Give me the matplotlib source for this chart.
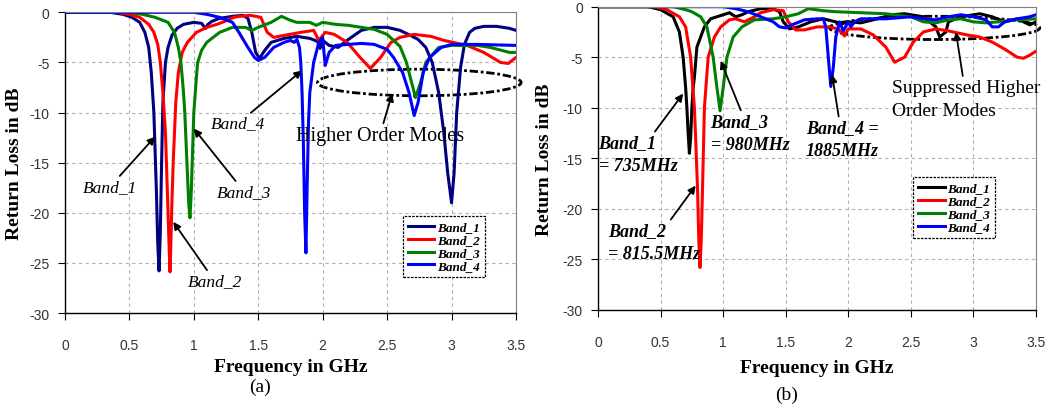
import numpy as np
import matplotlib
matplotlib.use("Agg")
import matplotlib.pyplot as plt
from matplotlib.patches import Ellipse

SERIF = "Liberation Serif"
SANS = "Liberation Sans"

# ---------------- panel (a) data ----------------
A1_F = [0, 0.35, 0.45, 0.52, 0.58, 0.62, 0.65, 0.67, 0.69, 0.70, 0.71, 0.72, 0.73, 0.74, 0.75, 0.76,
        0.78, 0.80, 0.83, 0.87, 0.92, 1.0, 1.06, 1.09, 1.11, 1.14, 1.2, 1.3, 1.38, 1.42, 1.45, 1.48,
        1.51, 1.55, 1.6, 1.7, 1.8, 1.85, 1.9, 1.96, 1.98, 2.0, 2.05, 2.12, 2.2, 2.3, 2.4, 2.5, 2.6,
        2.68, 2.74, 2.8, 2.85, 2.9, 2.94, 2.97, 3.0, 3.02, 3.04, 3.07, 3.1, 3.14, 3.18, 3.25, 3.35,
        3.45, 3.5]
A1_DB = [0, 0, -0.2, -0.5, -1.0, -2.0, -3.5, -6, -10, -14, -18, -23, -25.8, -22, -15, -9,
         -5, -3.5, -2.3, -1.6, -1.2, -1.0, -1.1, -1.6, -1.2, -0.9, -0.6, -0.4, -0.3, -0.6, -2, -4,
         -4.6, -3.8, -3.0, -2.6, -2.4, -2.5, -2.6, -2.9, -3.6, -2.8, -3.3, -3.5, -2.7, -1.8, -1.5, -1.5, -1.8,
         -2.3, -2.7, -3.5, -5, -8, -12, -16, -19, -16, -10, -5.5, -3.2, -2.0, -1.6, -1.4, -1.4,
         -1.6, -1.8]

A2_F = [0, 0.4, 0.5, 0.58, 0.65, 0.69, 0.72, 0.74, 0.76, 0.78, 0.79, 0.80, 0.81, 0.815, 0.82, 0.83,
        0.84, 0.86, 0.88, 0.91, 0.95, 1.02, 1.10, 1.18, 1.26, 1.31, 1.36, 1.44, 1.52, 1.57, 1.62,
        1.70, 1.83, 1.93, 1.97, 2.02, 2.09, 2.19, 2.29, 2.37, 2.45, 2.53, 2.6, 2.71, 2.84, 2.94,
        3.12, 3.25, 3.38, 3.44, 3.5]
A2_DB = [0, 0, -0.2, -0.5, -1.2, -2.0, -3.2, -5, -8, -12, -16, -20, -24, -25.9, -24, -19,
         -15, -9, -6, -4, -3, -2, -1.5, -1.2, -0.8, -0.5, -0.4, -0.3, -0.5, -2.0, -2.5,
         -2.3, -2.0, -1.8, -2.8, -2.0, -2.2, -3.0, -4.5, -5.6, -4.5, -3.0, -2.5, -2.2, -2.4, -2.8,
         -3.3, -4.0, -5.0, -5.1, -4.5]

A3_F = [0, 0.5, 0.6, 0.7, 0.8, 0.85, 0.88, 0.9, 0.92, 0.93, 0.94, 0.95, 0.96, 0.97, 0.98, 0.99,
        1.0, 1.02, 1.03, 1.06, 1.1, 1.2, 1.3, 1.4, 1.45, 1.5, 1.6, 1.68, 1.75, 1.8, 1.9, 1.95, 2.0,
        2.1, 2.2, 2.3, 2.4, 2.5, 2.6, 2.65, 2.69, 2.72, 2.76, 2.8, 2.9, 3.0, 3.2, 3.3, 3.45, 3.5]
A3_DB = [0, 0, -0.2, -0.5, -1.0, -2.0, -3.5, -5, -8, -10, -13, -16, -19, -20.5, -18, -14,
         -10, -6.5, -5, -3.8, -3.0, -2.0, -1.5, -1.5, -1.8, -1.5, -1.0, -0.4, -0.8, -1.0, -1.0, -1.3, -1.0,
         -1.2, -1.3, -1.5, -1.7, -2.2, -3.4, -5, -7, -8.5, -7, -5, -3.5, -3.3, -3.3, -3.5, -4.0, -4.0]

A4_F = [0, 1.0, 1.1, 1.2, 1.3, 1.35, 1.42, 1.47, 1.5, 1.55, 1.62, 1.7, 1.75, 1.78, 1.80, 1.82,
        1.83, 1.84, 1.85, 1.86, 1.87, 1.88, 1.89, 1.9, 1.93, 1.97, 2.0, 2.01, 2.02, 2.05, 2.1, 2.2,
        2.3, 2.4, 2.5, 2.55, 2.62, 2.67, 2.71, 2.74, 2.78, 2.83, 2.92, 3.0, 3.2, 3.5]
A4_DB = [0, 0, -0.2, -0.5, -1.0, -2.0, -3.5, -4.5, -4.8, -4.5, -3.5, -3.0, -2.8, -3.0, -2.7, -3.5,
         -5, -8, -13, -20, -24, -17, -11, -8, -5, -3, -2.5, -4.0, -5.3, -4.0, -3.3, -3.2,
         -3.1, -3.2, -3.7, -4.5, -6.0, -8.0, -10.3, -9.0, -6.0, -4.5, -3.5, -3.2, -3.2, -3.3]

# ---------------- panel (b) data ----------------
B1_F = [0, 0.4, 0.5, 0.6, 0.65, 0.68, 0.70, 0.71, 0.72, 0.73, 0.74, 0.75, 0.76, 0.77, 0.79, 0.82,
        0.85, 0.9, 1.0, 1.05, 1.1, 1.15, 1.2, 1.3, 1.4, 1.45, 1.48, 1.53, 1.6, 1.7, 1.8, 1.9, 1.95,
        2.0, 2.1, 2.2, 2.35, 2.45, 2.6, 2.7, 2.73, 2.78, 2.8, 2.9, 3.0, 3.05, 3.15, 3.25, 3.35,
        3.45, 3.5]
B1_DB = [0, 0, -0.3, -1.0, -2.5, -5, -8, -10, -12.5, -14.5, -13, -10, -8, -7, -4, -3,
         -2, -1.2, -0.8, -0.6, -1.0, -0.8, -0.5, -0.2, -0.2, -0.5, -1.5, -2.2, -2.0, -1.5, -1.2, -1.5, -1.7,
         -1.5, -1.6, -1.3, -0.8, -0.7, -1.0, -2.0, -3.0, -2.5, -1.5, -1.0, -0.8, -0.7, -1.0, -1.5, -1.2,
         -1.8, -1.5]

B2_F = [0, 0.45, 0.55, 0.65, 0.7, 0.74, 0.77, 0.78, 0.795, 0.805, 0.815, 0.825, 0.835, 0.85, 0.88,
        0.93, 0.98, 1.05, 1.1, 1.17, 1.25, 1.3, 1.4, 1.48, 1.52, 1.58, 1.65, 1.75, 1.85, 1.92, 1.97,
        2.0, 2.1, 2.2, 2.3, 2.37, 2.45, 2.52, 2.6, 2.7, 2.8, 2.95, 3.05, 3.15, 3.25, 3.35, 3.4,
        3.45, 3.5]
B2_DB = [0, 0, -0.3, -1.0, -2.0, -5, -10, -13, -18, -23, -25.8, -23, -18, -10, -5,
         -3, -2, -1.3, -1.2, -1.5, -1.0, -0.6, -0.3, -0.4, -1.5, -2.3, -2.3, -2.0, -2.0, -2.2, -2.9,
         -2.2, -2.2, -2.8, -4.0, -5.5, -5.0, -3.5, -2.5, -2.2, -2.4, -2.8, -3.0, -3.5, -4.2, -5.0, -5.1,
         -4.8, -4.4]

B3_F = [0, 0.6, 0.7, 0.75, 0.82, 0.87, 0.92, 0.95, 0.975, 1.0, 1.03, 1.08, 1.15, 1.25, 1.4, 1.5,
        1.6, 1.68, 1.8, 1.9, 2.1, 2.3, 2.5, 2.6, 2.7, 2.8, 2.9, 3.0, 3.1, 3.2, 3.35, 3.5]
B3_DB = [0, 0, -0.3, -0.5, -1.0, -2.0, -5, -8, -10.3, -8, -5, -3, -2, -1.3, -1.2, -1.0,
         -0.7, -0.2, -0.4, -0.5, -0.6, -0.7, -1.0, -1.5, -1.6, -1.3, -1.2, -1.5, -1.6, -1.5, -1.3, -1.2]

B4_F = [0, 1.0, 1.1, 1.2, 1.3, 1.4, 1.45, 1.5, 1.55, 1.65, 1.75, 1.8, 1.82, 1.84, 1.86, 1.88,
        1.9, 1.93, 1.96, 2.0, 2.02, 2.05, 2.1, 2.3, 2.5, 2.6, 2.7, 2.8, 2.9, 3.0, 3.1, 3.15, 3.2,
        3.25, 3.35, 3.45, 3.5]
B4_DB = [0, 0, -0.2, -0.5, -1.0, -1.5, -2.0, -2.1, -1.8, -1.3, -1.2, -1.2, -2.0, -5, -7.9, -6,
         -3, -1.5, -2.4, -1.5, -2.0, -1.5, -1.2, -1.2, -1.0, -1.2, -1.3, -1.0, -0.8, -1.0, -1.3, -2.0, -2.0,
         -1.5, -1.2, -1.0, -0.8]

LABELS = ["Band_1", "Band_2", "Band_3", "Band_4"]
COLORS_A = ["#000080", "#ff0000", "#008000", "#0000ff"]
COLORS_B = ["#000000", "#ff0000", "#008000", "#0000ff"]
XTICKS = [0, 0.5, 1, 1.5, 2, 2.5, 3, 3.5]
YTICKS = [0, -5, -10, -15, -20, -25, -30]


def setup(ax, xlab_y, ylab_x):
    ax.set_xlim(0, 3.5)
    ax.set_ylim(-30, 0)
    ax.set_xticks(XTICKS)
    ax.set_xticklabels([f"{t:g}" for t in XTICKS], fontfamily=SANS, fontsize=10, color="#333333")
    ax.set_yticks(YTICKS)
    ax.set_yticklabels([f"{t:g}" for t in YTICKS], fontfamily=SANS, fontsize=10, color="#333333")
    ax.tick_params(axis="x", direction="out", length=5, pad=13, top=False)
    ax.tick_params(axis="y", direction="out", length=5, pad=6, right=False)
    ax.grid(True, color="#b0b0b0", linestyle=(0, (3, 3)), linewidth=0.8)
    for s in ["top", "right"]:
        ax.spines[s].set_color("#808080")
    for s in ["left", "bottom"]:
        ax.spines[s].set_color("#000000")
        ax.spines[s].set_linewidth(1.0)
    ax.set_xlabel("Frequency in GHz", fontfamily=SERIF, fontweight="bold", fontsize=14)
    ax.set_ylabel("Return Loss in dB", fontfamily=SERIF, fontweight="bold", fontsize=14)
    ax.xaxis.set_label_coords(0.5, xlab_y)
    ax.yaxis.set_label_coords(ylab_x, 0.5)


def legend(ax, colors, loc):
    hs = [plt.Line2D([], [], color=c, lw=2.2) for c in colors]
    lg = ax.legend(hs, LABELS, loc="upper left", bbox_to_anchor=loc, fancybox=False,
                   prop={"family": SERIF, "weight": "bold", "style": "italic", "size": 9.5},
                   handlelength=2.0, handletextpad=0.2, labelspacing=0.05, borderpad=0.4,
                   borderaxespad=0, framealpha=1, edgecolor="#000000")
    lg.get_frame().set_linestyle((0, (2, 1)))
    lg.get_frame().set_linewidth(0.9)


def note(ax, text, xy, xytext, ha="left", bold=False, italic=True, size=12.5):
    ax.annotate(text, xy=xy, xytext=xytext, ha=ha, va="center", linespacing=1.45,
                fontfamily=SERIF, fontweight="bold" if bold else "normal",
                fontstyle="italic" if italic else "normal", fontsize=size,
                arrowprops=dict(arrowstyle="-|>", color="black", lw=1.3, mutation_scale=11,
                                shrinkA=0, shrinkB=0))


fig = plt.figure(figsize=(10.63, 4.10), dpi=100)
axa = fig.add_axes([0.0611, 0.2341, 0.4243, 0.7334])
axb = fig.add_axes([0.5626, 0.2415, 0.4120, 0.7398])

for f, d, c in zip([A1_F, A2_F, A3_F, A4_F], [A1_DB, A2_DB, A3_DB, A4_DB], COLORS_A):
    axa.plot(f, d, color=c, lw=2.2, solid_joinstyle="round")
for f, d, c in zip([B1_F, B2_F, B3_F, B4_F], [B1_DB, B2_DB, B3_DB, B4_DB], COLORS_B):
    axb.plot(f, d, color=c, lw=2.2, solid_joinstyle="round")

setup(axa, -0.15, -0.093)
setup(axb, -0.162, -0.103)
legend(axa, COLORS_A, (0.749, 0.323))
legend(axb, COLORS_B, (0.719, 0.4385))

# panel (a) annotations
axa.add_patch(Ellipse((2.75, -7.0), 1.58, 2.65, fill=False, ec="black", lw=2.0,
                      ls=(0, (3, 1, 1, 1)), clip_on=False, zorder=1))
note(axa, "Band_1", (0.70, -12.4), (0.35, -17.4), ha="center")
note(axa, "Band_2", (0.84, -20.9), (0.95, -26.8))
note(axa, "Band_3", (1.00, -11.6), (1.18, -17.9))
note(axa, "Band_4", (1.84, -5.8), (1.13, -11.1))
note(axa, "Higher Order Modes", (2.54, -8.1), (1.79, -12.3), italic=False, size=14.5)

# panel (b) annotations
axb.add_patch(Ellipse((2.69, -2.1), 1.68, 2.3, fill=False, ec="black", lw=2.0,
                      ls=(0, (3, 1, 1, 1)), clip_on=False, zorder=1))
note(axb, "Band_1\n= 735MHz", (0.68, -8.6), (0.005, -14.6), bold=True, size=13)
note(axb, "Band_2\n= 815.5MHz", (0.78, -17.7), (0.08, -23.3), bold=True, size=13)
note(axb, "Band_3\n= 980MHz", (0.98, -5.35), (0.90, -12.5), bold=True, size=13)
note(axb, "Band_4 =\n1885MHz", (1.87, -6.7), (1.66, -13.1), bold=True, size=13)
note(axb, "Suppressed Higher\nOrder Modes", (2.86, -2.5), (2.35, -9.1), italic=False, size=14)

fig.text(260 / 1063, 1 - 387 / 410, "(a)", ha="center", va="center", fontfamily=SERIF, fontsize=14)
fig.text(787 / 1063, 1 - 395 / 410, "(b)", ha="center", va="center", fontfamily=SERIF, fontsize=14)

fig.savefig("out.png", dpi=100)
